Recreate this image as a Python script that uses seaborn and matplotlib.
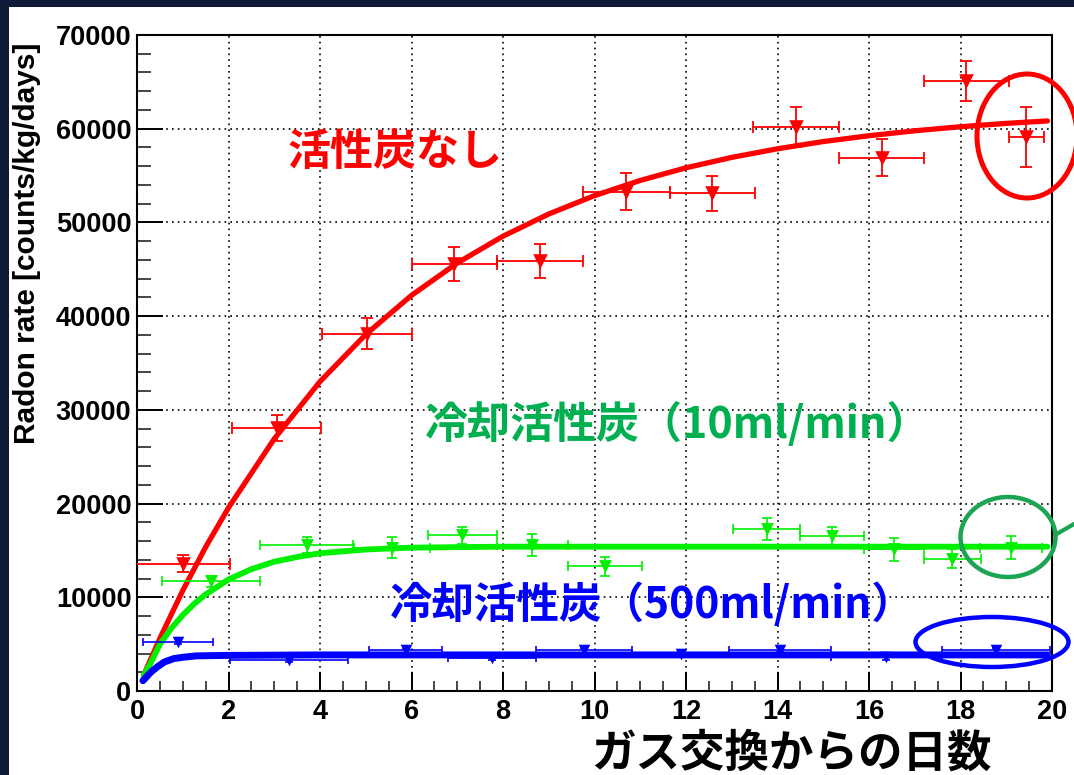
import numpy as np
import pandas as pd
import matplotlib
matplotlib.use('Agg')
import matplotlib.pyplot as plt
import seaborn as sns
from matplotlib.patches import Ellipse, Rectangle
from matplotlib.lines import Line2D
from matplotlib.ticker import MultipleLocator

# measured points (days since gas exchange, radon rate)
red_x = [1.0, 3.05, 5.02, 6.93, 8.81, 10.69, 12.57, 14.41, 16.28, 18.13, 19.44]
red_xerr = [1.03, 0.98, 0.98, 0.93, 0.94, 0.95, 0.93, 0.94, 0.93, 0.93, 0.38]
red_y = [13600, 28100, 38100, 45600, 45900, 53300, 53100, 60200, 56900, 65100, 59100]
red_yerr = [900, 1400, 1650, 1800, 1800, 2000, 1900, 2100, 1950, 2150, 3200]

green_x = [1.62, 3.71, 5.57, 7.11, 8.64, 10.23, 13.76, 15.2, 16.55, 17.82, 19.1]
green_xerr = [1.07, 1.02, 0.83, 0.75, 0.78, 0.81, 0.73, 0.7, 0.65, 0.62, 0.68]
green_y = [11700, 15600, 15300, 16600, 15600, 13300, 17300, 16500, 15100, 14100, 15300]
green_yerr = [600, 850, 1100, 900, 1200, 1050, 1200, 1000, 1200, 1000, 1250]

blue_x = [0.9, 3.32, 5.87, 7.76, 9.77, 11.88, 14.05, 16.38, 18.78]
blue_xerr = [0.77, 1.29, 0.8, 0.96, 1.05, 1.06, 1.12, 1.22, 1.18]
blue_y = [5250, 3350, 4350, 3550, 4350, 3950, 4400, 3600, 4350]
blue_yerr = [250, 250, 250, 250, 250, 250, 250, 250, 250]

# fitted curves
red_fit_t = [0.15, 0.5, 1, 1.5, 2, 3, 4, 5, 6, 7, 8, 9, 10, 11, 12, 13, 14, 15, 16, 17, 18, 19, 19.9]
red_fit_y = [1740, 5610, 10720, 15360, 19560, 26910, 33020, 38040, 42220, 45670, 48530, 50900,
             52860, 54480, 55830, 56940, 57860, 58630, 59250, 59780, 60210, 60570, 60830]
green_fit_t = [0.15, 0.3, 0.5, 0.75, 1, 1.25, 1.5, 2, 2.5, 3, 3.5, 4, 5, 6, 7, 8, 10, 12, 14, 16, 18, 19.9]
green_fit_y = [1700, 3000, 5000, 6700, 8100, 9300, 10300, 11900, 13000, 13800, 14300, 14700,
               15100, 15300, 15350, 15400, 15400, 15400, 15400, 15400, 15400, 15400]
blue_fit_t = [0.13, 0.3, 0.45, 0.6, 0.8, 1.0, 1.3, 2, 4, 8, 12, 16, 19.9]
blue_fit_y = [1100, 2000, 2600, 3100, 3450, 3600, 3750, 3800, 3850, 3850, 3850, 3850, 3850]

y_ticks = [0, 10000, 20000, 30000, 40000, 50000, 60000, 70000]
y_labels = ['0', '10000', '20000', '30000', '40000', '50000', '60000', '70000']
x_ticks = [0, 2, 4, 6, 8, 10, 12, 14, 16, 18, 20]

sns.set_theme(style='white')
plt.rcParams['font.family'] = ['Liberation Sans', 'Noto Sans CJK JP', 'DejaVu Sans']

W, H = 1074, 775
fx = lambda px: px / W
fy = lambda py: 1 - py / H

fig = plt.figure(figsize=(10.74, 7.75), dpi=100, facecolor='#0e1a38')
fig.add_artist(Rectangle((fx(9), 0), 1, fy(7), transform=fig.transFigure,
                         facecolor='white', edgecolor='none', zorder=0))
ax = fig.add_axes([fx(137), fy(691), 915 / W, 656 / H])
ax.set_facecolor('white')

cols = {'red': '#ff0000', 'green': '#00f000', 'blue': '#0000ff'}

# fit curves
sns.lineplot(x=red_fit_t, y=red_fit_y, color=cols['red'], lw=3.8, ax=ax, estimator=None, sort=False, zorder=3)
sns.lineplot(x=green_fit_t, y=green_fit_y, color=cols['green'], lw=4.2, ax=ax, estimator=None, sort=False, zorder=3)
sns.lineplot(x=blue_fit_t, y=blue_fit_y, color=cols['blue'], lw=5, ax=ax, estimator=None, sort=False, zorder=3)

# data with error bars
ax.errorbar(red_x, red_y, xerr=red_xerr, yerr=red_yerr, fmt='none', ecolor=cols['red'],
            elinewidth=1.3, capsize=4, capthick=1.3, zorder=4)
ax.errorbar(green_x, green_y, xerr=green_xerr, yerr=green_yerr, fmt='none', ecolor=cols['green'],
            elinewidth=1.2, capsize=3.5, capthick=1.2, zorder=4)
ax.errorbar(blue_x, blue_y, xerr=blue_xerr, yerr=blue_yerr, fmt='none', ecolor=cols['blue'],
            elinewidth=1.2, capsize=3, capthick=1.2, zorder=4)
sns.scatterplot(x=red_x, y=red_y, marker='v', s=110, color=cols['red'], linewidth=0, ax=ax, zorder=5)
sns.scatterplot(x=green_x, y=green_y, marker='v', s=85, color=cols['green'], linewidth=0, ax=ax, zorder=5)
sns.scatterplot(x=blue_x, y=blue_y, marker='v', s=70, color=cols['blue'], linewidth=0, ax=ax, zorder=5)

ax.set_xlim(0, 20)
ax.set_ylim(0, 70000)
ax.set_xticks(x_ticks)
ax.set_xticklabels([str(t) for t in x_ticks])
ax.set_yticks(y_ticks)
ax.set_yticklabels(y_labels)
ax.xaxis.set_minor_locator(MultipleLocator(0.5))
ax.yaxis.set_minor_locator(MultipleLocator(2000))
ax.grid(True, which='major', color='black', linestyle=(0, (1, 2.5)), linewidth=1.2)
ax.set_axisbelow(True)
ax.set_xlabel('')
ax.set_ylabel('')
for s in ax.spines.values():
    s.set_color('black')
    s.set_linewidth(1.5)
ax.tick_params(axis='y', which='major', direction='in', left=True, length=19, width=1.4, pad=4,
               labelsize=19.5, colors='black')
ax.tick_params(axis='y', which='minor', direction='in', left=True, length=10, width=1.2)
ax.tick_params(axis='x', which='major', direction='in', bottom=True, length=14, width=1.4, pad=6,
               labelsize=19.5, colors='black')
ax.tick_params(axis='x', which='minor', direction='in', bottom=True, length=7, width=1.2)
for lab in ax.get_xticklabels() + ax.get_yticklabels():
    lab.set_fontweight('bold')

# labels and annotations
cjk = ['Noto Sans CJK JP', 'DejaVu Sans']
fig.text(fx(27), fy(243), 'Radon rate [counts/kg/days]', rotation=90, fontsize=21.5,
         fontweight='bold', ha='center', va='center', color='black')
fig.text(fx(791), fy(754), 'ガス交換からの日数', fontsize=32, fontweight='bold', family=cjk,
         ha='center', va='center', color='black')
fig.text(fx(287), fy(152), '活性炭なし', fontsize=31, fontweight='bold', family=cjk,
         ha='left', va='center', color='#ff0000')
fig.text(fx(425), fy(424), '冷却活性炭（10ml/min）', fontsize=31, fontweight='bold', family=cjk,
         ha='left', va='center', color='#00b050')
fig.text(fx(390), fy(605), '冷却活性炭（500ml/min）', fontsize=30.6, fontweight='bold', family=cjk,
         ha='left', va='center', color='#0000ff')

# slide highlight circles
for (cx, cy, w, h, c, lw) in [(1027, 136, 100, 124, '#ff0000', 3.6),
                               (1008, 537, 95, 80, '#1aa552', 3.2),
                               (992, 642, 153, 50, '#0000ff', 3.2)]:
    fig.add_artist(Ellipse((fx(cx), fy(cy)), w / W, h / H, transform=fig.transFigure,
                           fill=False, edgecolor=c, linewidth=lw, zorder=10))
fig.add_artist(Line2D([fx(1055), fx(1074)], [fy(535), fy(524)], transform=fig.transFigure,
                      color='#1aa552', linewidth=3, zorder=10))

fig.savefig('out.png', dpi=100, facecolor=fig.get_facecolor())
